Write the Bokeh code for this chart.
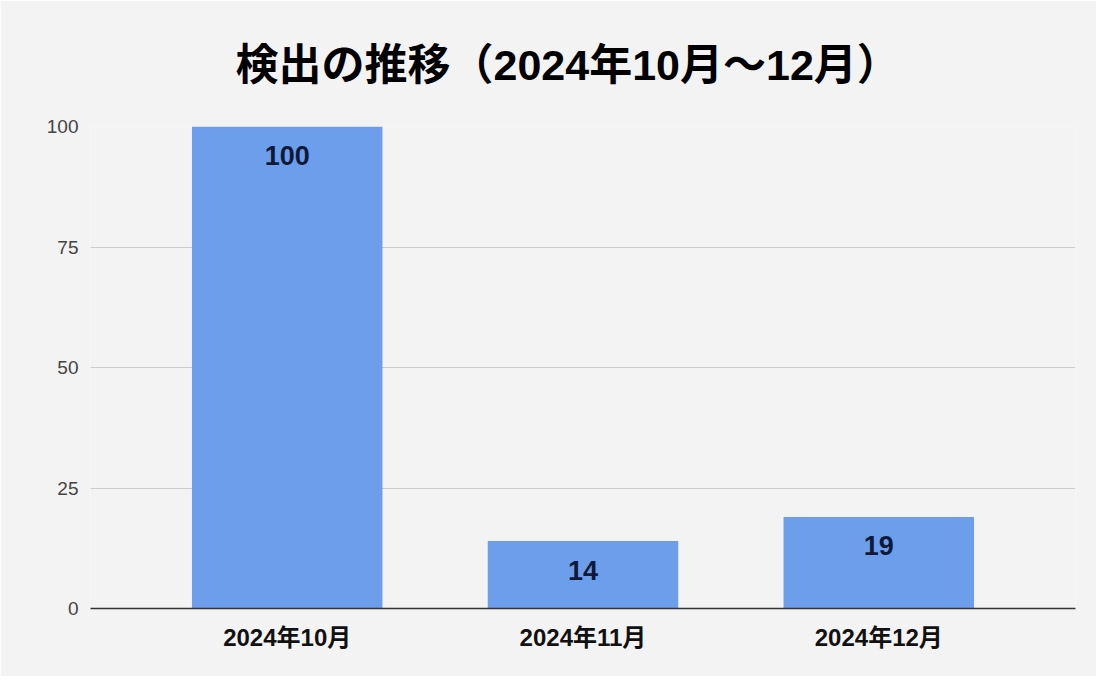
from bokeh.plotting import figure
from bokeh.models import FactorRange, FixedTicker, ColumnDataSource
from bokeh.core.properties import value
from bokeh.embed import file_html
from bokeh.resources import INLINE

months = ["2024年10月", "2024年11月", "2024年12月"]
counts = [100, 14, 19]
labels = ["100", "14", "19"]
y_ticks = [0, 25, 50, 75, 100]
title_text = "検出の推移（2024年10月～12月）"

FONT = "'Liberation Sans', 'Noto Sans CJK JP', sans-serif"

src = ColumnDataSource(dict(month=months, count=counts, label=labels))

p = figure(
    width=1096, height=676,
    x_range=FactorRange(factors=months, range_padding=0.165, range_padding_units="absolute"),
    y_range=(0, 100),
    output_backend="svg", toolbar_location=None,
    background_fill_color="#f3f3f3", border_fill_color="#f3f3f3",
    min_border_left=90, min_border_right=21, min_border_top=126, min_border_bottom=68,
)
p.outline_line_color = None

p.title.text = title_text
p.title.align = "left"
p.title.offset = 145
p.title.text_font = FONT
p.title.text_font_size = "43px"
p.title.text_font_style = "bold"
p.title.text_color = "#000000"
p.title.standoff = 75

p.vbar(x="month", top="count", width=0.644, source=src, fill_color="#6d9eeb", line_color=None)
p.text(x="month", y="count", text="label", source=src, y_offset=29,
       text_align="center", text_baseline="middle",
       text_font=value(FONT), text_font_size="27px", text_font_style="bold",
       text_color="#0e1a38")

p.xgrid.grid_line_color = None
p.ygrid.grid_line_color = "#cccccc"
p.ygrid.grid_line_width = 1
p.yaxis.ticker = FixedTicker(ticks=y_ticks)
p.yaxis.axis_line_color = None
p.yaxis.major_tick_line_color = None
p.yaxis.minor_tick_line_color = None
p.yaxis.major_label_text_font = FONT
p.yaxis.major_label_text_font_size = "19px"
p.yaxis.major_label_text_color = "#444444"
p.yaxis.major_label_standoff = 6

p.xaxis.axis_line_color = "#333333"
p.xaxis.axis_line_width = 1.5
p.xaxis.major_tick_line_color = None
p.xaxis.minor_tick_line_color = None
p.xaxis.major_label_text_font = FONT
p.xaxis.major_label_text_font_size = "24px"
p.xaxis.major_label_text_font_style = "bold"
p.xaxis.major_label_text_color = "#111111"
p.xaxis.major_label_standoff = 9

open("out.html", "w").write(file_html(p, INLINE))
